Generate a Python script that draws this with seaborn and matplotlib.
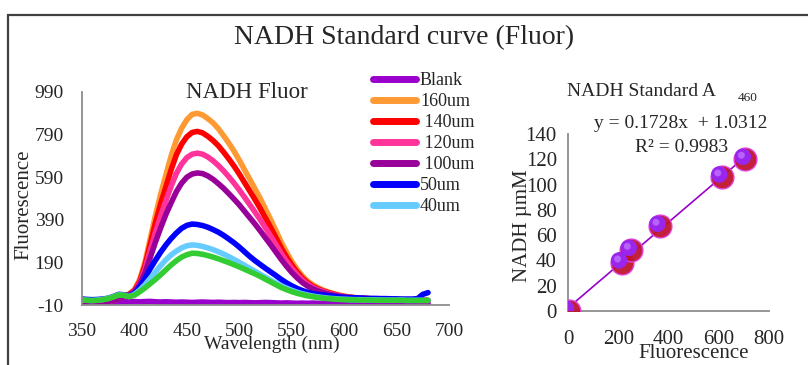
import numpy as np
import pandas as pd
import matplotlib
matplotlib.use("Agg")
import matplotlib.pyplot as plt
from matplotlib.lines import Line2D
from matplotlib.patches import Rectangle
from matplotlib.transforms import offset_copy
import seaborn as sns

# emission spectra, 350-680 nm every 5 nm
wavelength = list(range(350, 685, 5))

blank = [0, 1, 0, 1, 2, 2, 3, 4, 5, 6, 6, 5, 6, 7, 5, 4, 5, 4, 3, 4, 3, 2, 3, 4, 3, 2, 3, 2, 1, 2, 1, 2, 1, 0,
         1, 2, 1, 0, -1, 0, -1, -2, -1, -2, -1, -2, -2, -3, -2, -3, -2, -3, -2, -3, -3, -2, -3, -3, -2, -3,
         -3, -2, -3, -3, -2, -3, -3]
um160 = [2, 1, 2, 3, 5, 8, 14, 22, 32, 42, 62, 110, 190, 300, 410, 510, 600, 690, 765, 820, 860, 885, 890,
         882, 865, 845, 818, 785, 750, 712, 670, 625, 580, 535, 490, 440, 390, 338, 285, 238, 195, 158, 127,
         103, 85, 71, 60, 51, 44, 37, 32, 28, 25, 23, 22, 20, 19, 18, 17, 16, 16, 15, 15, 14, 14, 14, 13]
um140 = [1, 0, 1, 2, 4, 7, 12, 20, 30, 40, 58, 100, 175, 275, 375, 465, 545, 625, 695, 745, 780, 800, 805,
         798, 782, 762, 738, 708, 676, 642, 605, 565, 525, 485, 443, 398, 353, 306, 258, 216, 178, 145, 117,
         95, 78, 66, 56, 48, 41, 35, 30, 27, 24, 22, 21, 19, 18, 17, 16, 16, 15, 15, 14, 14, 13, 13, 12]
um120 = [0, 0, 1, 2, 4, 7, 12, 19, 28, 38, 55, 92, 158, 245, 330, 408, 480, 548, 608, 652, 682, 698, 703,
         698, 685, 667, 645, 620, 592, 562, 530, 496, 461, 426, 390, 352, 313, 273, 232, 195, 162, 133, 108,
         88, 73, 62, 53, 45, 39, 34, 29, 26, 23, 21, 20, 18, 17, 16, 15, 15, 14, 14, 13, 13, 12, 12, 10]
um100 = [0, 0, 1, 2, 4, 7, 12, 19, 28, 37, 52, 85, 140, 212, 285, 352, 415, 470, 522, 562, 590, 605, 610,
         607, 596, 580, 560, 538, 513, 487, 460, 430, 400, 370, 338, 305, 272, 238, 204, 172, 143, 118, 96,
         79, 66, 56, 48, 41, 36, 31, 27, 24, 22, 20, 19, 17, 16, 15, 15, 14, 14, 13, 13, 12, 12, 11, 10]
um50 = [18, 16, 15, 16, 18, 22, 30, 40, 38, 32, 45, 75, 115, 160, 200, 238, 272, 302, 328, 350, 364, 370,
        368, 363, 355, 344, 332, 317, 300, 282, 262, 240, 218, 198, 180, 162, 145, 128, 110, 94, 80, 68, 58,
        50, 44, 40, 37, 34, 31, 28, 26, 25, 24, 23, 22, 21, 21, 20, 20, 19, 19, 18, 18, 18, 20, 40, 48]
um40 = [14, 12, 11, 13, 16, 21, 29, 38, 36, 30, 40, 60, 85, 115, 145, 175, 202, 225, 243, 258, 268, 272,
        270, 265, 258, 250, 240, 229, 217, 204, 190, 176, 162, 148, 134, 120, 106, 93, 80, 69, 59, 50, 43,
        37, 32, 28, 25, 22, 20, 18, 17, 16, 15, 15, 14, 14, 14, 13, 13, 13, 13, 13, 12, 12, 12, 12, 12]
um20 = [14, 12, 11, 12, 15, 20, 28, 37, 35, 29, 36, 52, 70, 90, 110, 132, 155, 178, 198, 215, 226, 233,
        232, 228, 222, 215, 207, 198, 189, 179, 169, 158, 147, 136, 124, 111, 98, 85, 72, 62, 53, 45, 39,
        33, 29, 25, 22, 20, 18, 16, 15, 14, 14, 13, 13, 13, 12, 12, 12, 12, 12, 12, 11, 11, 11, 11, 11]

labels = ["Blank", "160um", " 140um", " 120um", " 100um", "50um", "40um", "20um"]
colors = ["#9900cc", "#ff9933", "#ff0000", "#ff3399", "#990099", "#0000ff", "#66ccff", "#33cc33"]

# standard curve points
std_fluor = [2, 213, 252, 366, 612, 706]
std_nadh = [0, 38, 48, 67, 106, 120]

spectra = pd.DataFrame({"wavelength": wavelength * 8,
                        "fluor": blank + um160 + um140 + um120 + um100 + um50 + um40 + um20,
                        "conc": np.repeat(labels, len(wavelength))})
std = pd.DataFrame({"fluor": std_fluor, "nadh": std_nadh})

sns.set_style("white")
plt.rcParams["font.family"] = ["Liberation Serif", "DejaVu Serif"]
plt.rcParams["axes.unicode_minus"] = False

W, H = 808, 365
fig = plt.figure(figsize=(W / 100, H / 100), dpi=100)

def fx(px):
    return px / W

def fy(py):
    return 1 - py / H

# outer chart border (only top and left edges visible)
fig.add_artist(Rectangle((fx(8), -0.2), 1.2, fy(15) + 0.2, transform=fig.transFigure,
                         fill=False, edgecolor="#404040", linewidth=1.6))

fig.text(fx(404), fy(38), "NADH Standard curve (Fluor)", ha="center", va="center", fontsize=20)

# left panel
ax = fig.add_axes([fx(82), fy(305), fx(449) - fx(82), fy(92) - fy(305)])
sns.lineplot(data=spectra, x="wavelength", y="fluor", hue="conc", hue_order=labels,
             palette=dict(zip(labels, colors)), linewidth=4, legend=False, ax=ax)
ax.set_xlim(350, 700)
ax.set_ylim(-10, 990)
ax.set_xticks(range(350, 701, 50))
ax.set_yticks([-10, 190, 390, 590, 790, 990])
for s in ["top", "right"]:
    ax.spines[s].set_visible(False)
for s in ["left", "bottom"]:
    ax.spines[s].set_color("#8c8c8c")
    ax.spines[s].set_linewidth(1.3)
ax.tick_params(direction="out", length=5, width=1.2, color="#8c8c8c", labelsize=14, pad=8)
ax.set_xlabel("Wavelength (nm)", fontsize=14)
ax.xaxis.set_label_coords(fx(272), fy(344), transform=fig.transFigure)
ax.xaxis.label.set_va("center")
ax.set_ylabel("Fluorescence", fontsize=15)
ax.yaxis.set_label_coords(fx(24), fy(205), transform=fig.transFigure)
ax.yaxis.label.set_va("center")
fig.text(fx(247), fy(92), "NADH Fluor", ha="center", va="center", fontsize=16.5)

handles = [Line2D([], [], color=c, linewidth=5, solid_capstyle="round") for c in colors[:7]]
fig.legend(handles, labels[:7], loc="upper left", bbox_to_anchor=(fx(373), fy(72)),
           frameon=False, fontsize=13, borderpad=0, labelspacing=0.22, handlelength=2.4,
           handletextpad=0.2, borderaxespad=0)

# right panel
ax2 = fig.add_axes([fx(568), fy(311), fx(769) - fx(568), fy(134) - fy(311)])
sns.regplot(data=std, x="fluor", y="nadh", ci=None, scatter=False, ax=ax2,
            line_kws=dict(color="#9900cc", linewidth=1.2))
sns.scatterplot(data=std, x="fluor", y="nadh", s=270, color="#c0142e", edgecolor="#e040e0",
                linewidth=1.0, alpha=0.95, ax=ax2, zorder=3)
ax2.scatter(std_fluor, std_nadh, s=140, color="#9a26ee", edgecolor="none", zorder=4,
            transform=offset_copy(ax2.transData, fig=fig, x=-2.5, y=2.5, units="dots"))
ax2.scatter(std_fluor, std_nadh, s=25, color="#c070ff", edgecolor="none", zorder=5, alpha=0.8,
            transform=offset_copy(ax2.transData, fig=fig, x=-4, y=4, units="dots"))
ax2.set_xlim(0, 800)
ax2.set_ylim(0, 140)
ax2.set_xticks(range(0, 801, 200))
ax2.set_yticks(range(0, 141, 20))
for s in ["top", "right"]:
    ax2.spines[s].set_visible(False)
for s in ["left", "bottom"]:
    ax2.spines[s].set_color("#8c8c8c")
    ax2.spines[s].set_linewidth(1.3)
ax2.tick_params(direction="out", length=5, width=1.2, color="#8c8c8c", labelsize=15, pad=3)
ax2.tick_params(axis="x", pad=9)
ax2.set_xlabel("Fluorescence", fontsize=15)
ax2.xaxis.set_label_coords(fx(694), fy(353), transform=fig.transFigure)
ax2.xaxis.label.set_va("center")
ax2.set_ylabel("NADH µmM", fontsize=15)
ax2.yaxis.set_label_coords(fx(523), fy(226), transform=fig.transFigure)
ax2.yaxis.label.set_va("center")

fig.text(fx(567), fy(92), "NADH Standard A", ha="left", va="center", fontsize=14)
fig.text(fx(738), fy(98), "460", ha="left", va="center", fontsize=9.5)
fig.text(fx(681), fy(123), "y = 0.1728x  + 1.0312", ha="center", va="center", fontsize=14)
fig.text(fx(682), fy(148), "R² = 0.9983", ha="center", va="center", fontsize=14)

fig.savefig("out.png", dpi=100)
